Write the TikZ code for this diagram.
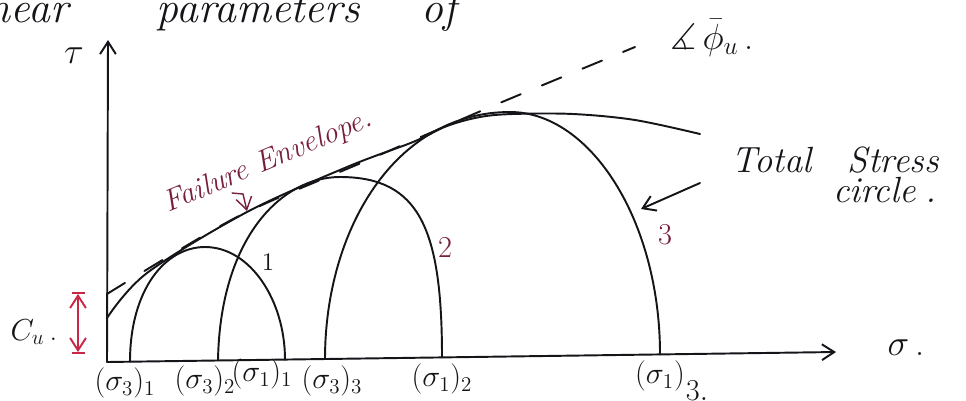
\documentclass[tikz,border=0pt]{standalone}
\usepackage{amsmath,amssymb}
\usepackage{xcolor}
\usepackage{tikz}
\usetikzlibrary{arrows.meta,calc,positioning}
\definecolor{ink}{RGB}{20,20,25}
\definecolor{maroon}{RGB}{120,30,60}
\definecolor{cured}{RGB}{200,40,70}

\begin{document}
\begin{tikzpicture}[x=0.02cm,y=-0.02cm,font=\LARGE,line width=1.1pt,line cap=round,draw=ink,text=ink,
  >={Straight Barb[length=7pt,width=9pt]}]
\useasboundingbox (0,0) rectangle (966,400);
\node[anchor=base east,font=\Huge\itshape] (shear) at (75,22) {Shear};
\node[anchor=base west,font=\Huge\itshape] (param) at (150,22) {parameters};
\node[anchor=base west,font=\Huge\itshape] (of) at (415,22) {of};
\coordinate (O) at (107,362);
\coordinate (tautop) at (108,40);
\coordinate (sigend) at (836,352);
\draw[->] (O) -- (tautop);
\draw[->] (O) -- (sigend);
\node[font=\huge] (tau) at (74,56) {$\tau$};
\node[font=\huge] (sig) at (906,348) {$\sigma$\,.};
\draw (130,361.7) .. controls (130,290) and (165,247) .. (205,247) .. controls (250,247) and (285,300) .. (285,359.6);
\draw (218,360.5) .. controls (220,240) and (280,177) .. (340,177) .. controls (420,177) and (442,230) .. (442,357.4);
\draw (325,359) .. controls (325,230) and (395,112) .. (510,112) .. controls (590,112) and (660,220) .. (660,354.4);
\draw plot[smooth,tension=0.55] coordinates {(107,318) (147,273) (247,212) (347,167) (413,142) (447,126) (480,117) (513,114) (573,114) (635,120) (700,134)};
\draw[dash pattern=on 12pt off 13pt] plot[smooth] coordinates {(107,294) (237,217) (368,160) (495,105) (635,47)};
\node[font=\huge] (phiu) at (712,38) {$\measuredangle\,\bar{\phi}_u$\,.};
\node[font=\Large] (n1) at (268,262) {1};
\node[text=maroon] (n2) at (445,247) {2};
\node[text=maroon] (n3) at (665,235) {3};
\node[rotate=23,text=maroon,font=\LARGE\itshape] (fenv) at (268,162) {Failure Envelope.};
\coordinate (fa0) at (232,193);
\coordinate (fa1) at (243,194);
\coordinate (fa2) at (247,211);
\draw[->,maroon,line width=0.8pt] (fa0) -- (fa1) -- (fa2);
\node[font=\huge\itshape] (tot) at (835,160) {Total\quad Stress};
\node[font=\huge\itshape] (circ) at (885,190) {circle\;.};
\coordinate (totarr) at (700,183);
\coordinate (c3pt) at (641,209);
\draw[->] (totarr) -- (c3pt);
\node (cu) at (34,332) {$C_u$\,.};
\coordinate (cutop) at (78,292);
\coordinate (cubot) at (78,354);
\draw[cured,|<->|] (cutop) -- (cubot);
\node (s31) at (125,383) {$(\sigma_3)_1$};
\node (s32) at (205,381) {$(\sigma_3)_2$};
\node (s11) at (262,374) {$(\sigma_1)_1$};
\node (s33) at (332,381) {$(\sigma_3)_3$};
\node (s12) at (442,379) {$(\sigma_1)_2$};
\node (s13) at (660,376) {$(\sigma_1)$};
\node (s13i) at (697,391) {$3.$};
\end{tikzpicture}
\end{document}
